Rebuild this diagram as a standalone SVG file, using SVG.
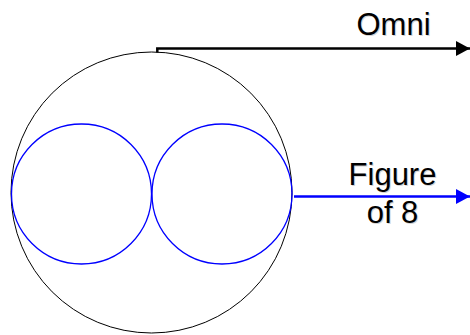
<svg xmlns="http://www.w3.org/2000/svg" width="470" height="335" viewBox="0 0 470 335">
<style>
.lbl{font-family:"Liberation Sans",Arial,sans-serif;font-size:31px;text-anchor:middle;fill:#000}
.sh{fill:#aaa;opacity:0.5}
</style>
<defs>
<marker id="ab" viewBox="0 0 10 10" refX="10" refY="5" markerWidth="14" markerHeight="15" markerUnits="userSpaceOnUse" orient="auto" preserveAspectRatio="none"><path d="M0,0 L10,5 L0,10 Z" fill="#000"/></marker>
<marker id="ablue" viewBox="0 0 10 10" refX="10" refY="5" markerWidth="14" markerHeight="15" markerUnits="userSpaceOnUse" orient="auto" preserveAspectRatio="none"><path d="M0,0 L10,5 L0,10 Z" fill="#0000ff"/></marker>
</defs>
<g id="omni-pattern"><circle cx="151.5" cy="192.5" r="140.5" fill="none" stroke="#000" stroke-width="1"/></g>
<g id="fig8-left"><circle cx="81.5" cy="194" r="70" fill="none" stroke="#0000ff" stroke-width="1.3"/></g>
<g id="fig8-right"><circle cx="222" cy="194" r="70" fill="none" stroke="#0000ff" stroke-width="1.3"/></g>
<g id="connectors">
<polyline points="157.3,52.5 157.3,48.5 470,48.5" fill="none" stroke="#000" stroke-width="2.5" marker-end="url(#ab)"/>
<line x1="294" y1="196.5" x2="470" y2="196.5" stroke="#0000ff" stroke-width="2.5" marker-end="url(#ablue)"/>
</g>
<g id="label-omni"><text class="lbl sh" x="394.5" y="36">Omni</text><text class="lbl" x="393.5" y="35">Omni</text></g>
<g id="label-fig8"><text class="lbl sh" x="393.5" y="186">Figure</text><text class="lbl" x="392.5" y="185">Figure</text><text class="lbl sh" x="393.5" y="224">of 8</text><text class="lbl" x="392.5" y="223">of 8</text></g>
</svg>
